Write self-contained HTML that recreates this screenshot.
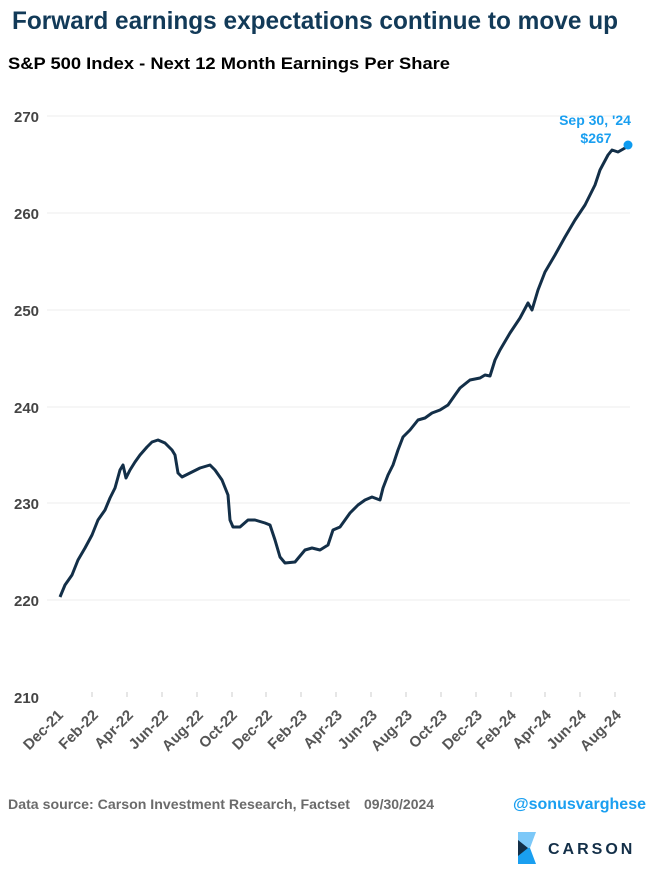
<!DOCTYPE html>
<html><head><meta charset="utf-8"><style>body{margin:0;background:#fff}svg{display:block}text{font-family:"Liberation Sans",Arial,sans-serif;font-weight:bold}</style></head><body>
<svg width="656" height="880" viewBox="0 0 656 880" xmlns="http://www.w3.org/2000/svg">
<text x="12" y="29" font-size="25" fill="#123a58" textLength="606" lengthAdjust="spacingAndGlyphs">Forward earnings expectations continue to move up</text>
<text x="8" y="69" font-size="17" fill="#000" textLength="442" lengthAdjust="spacingAndGlyphs">S&amp;P 500 Index - Next 12 Month Earnings Per Share</text>
<g stroke="#ececec" stroke-width="1">
<line x1="47" x2="630" y1="116" y2="116"/><line x1="47" x2="630" y1="213" y2="213"/><line x1="47" x2="630" y1="310" y2="310"/><line x1="47" x2="630" y1="407" y2="407"/><line x1="47" x2="630" y1="503" y2="503"/><line x1="47" x2="630" y1="600" y2="600"/>
</g>
<g font-size="15" fill="#444">
<text x="14" y="122">270</text><text x="14" y="219">260</text><text x="14" y="316">250</text><text x="14" y="413">240</text><text x="14" y="509">230</text><text x="14" y="606">220</text><text x="14" y="703">210</text>
</g>
<g stroke="#ccc" stroke-width="1">
<line x1="92" x2="92" y1="692" y2="697"/><line x1="127" x2="127" y1="692" y2="697"/><line x1="162" x2="162" y1="692" y2="697"/><line x1="197" x2="197" y1="692" y2="697"/><line x1="232" x2="232" y1="692" y2="697"/><line x1="266" x2="266" y1="692" y2="697"/><line x1="301" x2="301" y1="692" y2="697"/><line x1="336" x2="336" y1="692" y2="697"/><line x1="371" x2="371" y1="692" y2="697"/><line x1="406" x2="406" y1="692" y2="697"/><line x1="441" x2="441" y1="692" y2="697"/><line x1="476" x2="476" y1="692" y2="697"/><line x1="511" x2="511" y1="692" y2="697"/><line x1="545" x2="545" y1="692" y2="697"/><line x1="580" x2="580" y1="692" y2="697"/><line x1="615" x2="615" y1="692" y2="697"/>
</g>
<g font-size="15" fill="#555" text-anchor="end">
<text transform="translate(64,716) rotate(-45)">Dec-21</text>
<text transform="translate(99,716) rotate(-45)">Feb-22</text>
<text transform="translate(134,716) rotate(-45)">Apr-22</text>
<text transform="translate(169,716) rotate(-45)">Jun-22</text>
<text transform="translate(204,716) rotate(-45)">Aug-22</text>
<text transform="translate(238,716) rotate(-45)">Oct-22</text>
<text transform="translate(273,716) rotate(-45)">Dec-22</text>
<text transform="translate(308,716) rotate(-45)">Feb-23</text>
<text transform="translate(343,716) rotate(-45)">Apr-23</text>
<text transform="translate(378,716) rotate(-45)">Jun-23</text>
<text transform="translate(413,716) rotate(-45)">Aug-23</text>
<text transform="translate(448,716) rotate(-45)">Oct-23</text>
<text transform="translate(483,716) rotate(-45)">Dec-23</text>
<text transform="translate(517,716) rotate(-45)">Feb-24</text>
<text transform="translate(552,716) rotate(-45)">Apr-24</text>
<text transform="translate(587,716) rotate(-45)">Jun-24</text>
<text transform="translate(622,716) rotate(-45)">Aug-24</text>
</g>
<polyline fill="none" stroke="#132f48" stroke-width="3" stroke-linejoin="round" points="60,597 65,585 72,575 78,560 85,548 92,535 98,520 105,510 110,498 115,488 120,470 123,465 126,478 130,470 135,462 140,455 147,447 152,442 158,440 165,443 172,450 175,455 178,473 182,477 190,473 200,468 210,465 215,470 222,480 228,495 230,520 233,527 240,527 248,520 255,520 265,523 270,525 275,540 280,557 285,563 295,562 305,550 312,548 320,550 328,545 333,530 340,527 345,520 350,513 358,505 365,500 372,497 380,500 383,488 388,475 393,465 398,450 403,437 410,430 418,420 425,418 432,413 440,410 448,405 455,395 460,388 470,380 480,378 485,375 490,376 495,360 500,350 510,333 520,318 528,303 532,310 538,290 545,272 555,255 565,237 575,220 585,205 595,185 600,170 608,155 612,150 618,152 625,148 628,145"/>
<circle cx="628" cy="145" r="4.5" fill="#0d9bf0"/>
<g font-size="14" fill="#1a9ff0" text-anchor="middle"><text x="595" y="125">Sep 30, '24</text><text x="596" y="143">$267</text></g>
<text x="8" y="809" font-size="14" fill="#6b6b6b" textLength="342" lengthAdjust="spacingAndGlyphs">Data source: Carson Investment Research, Factset</text>
<text x="364" y="809" font-size="14" fill="#6b6b6b">09/30/2024</text>
<text x="646" y="809" font-size="16" fill="#1a9ff0" text-anchor="end">@sonusvarghese</text>
<polygon points="518,832 536,832 530,848 518,848" fill="#7cc8f8"/>
<polygon points="518,848 530,848 536,864 518,864" fill="#1a9ff0"/>
<polygon points="518,840 528,848 518,856" fill="#132f48"/>
<text x="548" y="854" font-size="16" fill="#132f48" font-weight="normal" letter-spacing="3">CARSON</text>
</svg>
</body></html>
